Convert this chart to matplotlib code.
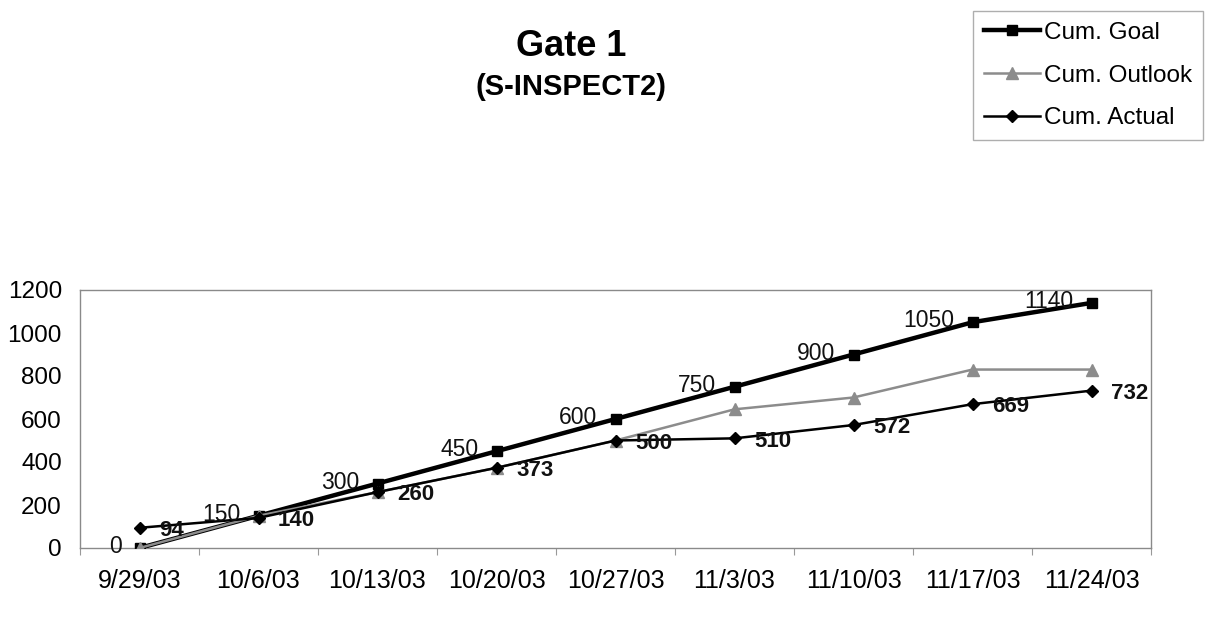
import matplotlib
matplotlib.use("Agg")
import matplotlib.pyplot as plt
from matplotlib.ticker import FixedLocator, NullFormatter

plt.rcParams['font.family'] = ['Liberation Sans', 'DejaVu Sans']

weeks = ["9/29/03", "10/6/03", "10/13/03", "10/20/03", "10/27/03",
         "11/3/03", "11/10/03", "11/17/03", "11/24/03"]
cum_goal = [0, 150, 300, 450, 600, 750, 900, 1050, 1140]
cum_outlook = [0, 150, 260, 373, 500, 645, 700, 830, 830]
cum_actual = [94, 140, 260, 373, 500, 510, 572, 669, 732]

W, H = 1206, 622
fig = plt.figure(figsize=(W / 100, H / 100), dpi=100)
fig.patch.set_facecolor("white")

ax = fig.add_axes([80 / W, (H - 548) / H, 1071 / W, 258 / H])
x = list(range(len(weeks)))

ax.plot(x, cum_goal, color="black", lw=3.2, marker="s", ms=7.5,
        label="Cum. Goal", zorder=3)
ax.plot(x, cum_outlook, color="#8c8c8c", lw=1.8, marker="^", ms=8.5,
        label="Cum. Outlook", zorder=4)
ax.plot(x, cum_actual, color="black", lw=1.8, marker="D", ms=6.5,
        label="Cum. Actual", zorder=5)

# value labels: goal to the left of its points, actual (bold) to the right
for xi, v in zip(x, cum_goal):
    ax.annotate(str(v), (xi, v), xytext=(-13, 1), textcoords="offset points",
                ha="right", va="center", fontsize=16.5, color="#111111", zorder=6)
for xi, v in zip(x, cum_actual):
    ax.annotate(str(v), (xi, v), xytext=(14, -2), textcoords="offset points",
                ha="left", va="center", fontsize=16, fontweight="bold",
                color="#111111", zorder=6)

ax.set_xlim(-0.5, len(weeks) - 0.5)
ax.set_ylim(0, 1200)
ax.set_yticks(range(0, 1201, 200))

# category labels centred, tick marks on the category boundaries
ax.xaxis.set_major_locator(FixedLocator([i - 0.5 for i in range(len(weeks) + 1)]))
ax.xaxis.set_major_formatter(NullFormatter())
ax.xaxis.set_minor_locator(FixedLocator(x))
ax.set_xticklabels(weeks, minor=True)
ax.tick_params(axis="x", which="major", length=5, color="#999999", direction="out")
ax.tick_params(axis="x", which="minor", length=0, pad=15, labelsize=18)
ax.tick_params(axis="y", length=0, pad=13, labelsize=17.5)

for s in ax.spines.values():
    s.set_color("#8a8a8a")
    s.set_linewidth(1.0)

fig.text(571 / W, 1 - 46 / H, "Gate 1", ha="center", va="center",
         fontsize=26, fontweight="bold")
fig.text(571 / W, 1 - 87 / H, "(S-INSPECT2)", ha="center", va="center",
         fontsize=21, fontweight="bold")

leg = fig.legend(loc="upper right", bbox_to_anchor=(1203 / W, 1 - 11 / H),
                 fontsize=17.5, frameon=True, fancybox=False, handlelength=2.3,
                 handletextpad=0.15, borderpad=0.45, labelspacing=0.85,
                 borderaxespad=0)
leg.get_frame().set_edgecolor("#9a9a9a")
leg.get_frame().set_linewidth(1.0)

fig.savefig("out.png", dpi=100, facecolor="white")
